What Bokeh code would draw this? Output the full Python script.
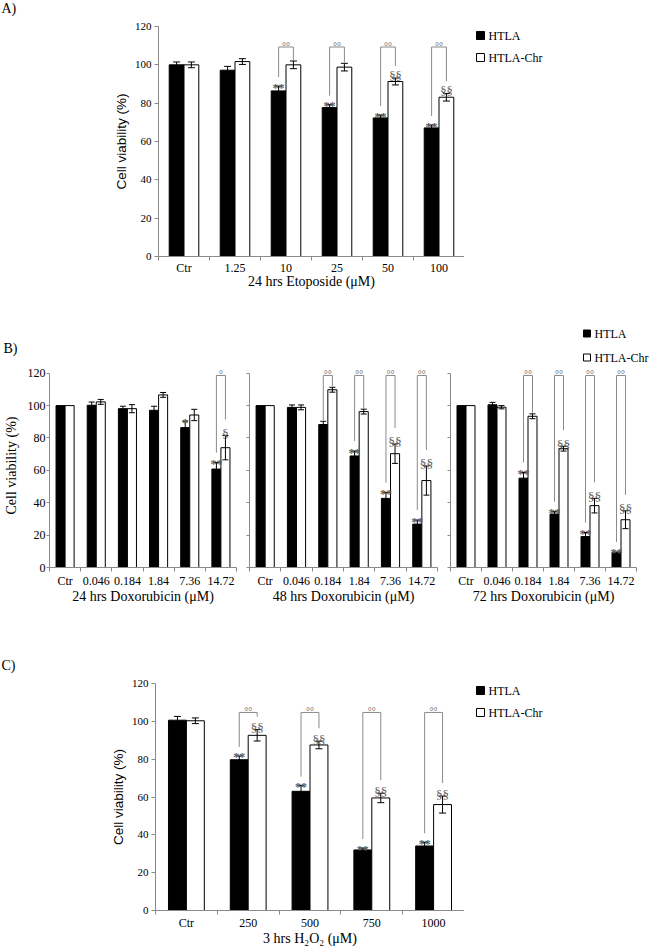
import numpy as np
from bokeh.plotting import figure
from bokeh.models import Range1d, FixedTicker
from bokeh.layouts import column, row
from bokeh.embed import file_html
from bokeh.resources import INLINE
from bokeh.core.properties import value

# ---------------- data ----------------
a_categories = ["Ctr", "1.25", "10", "25", "50", "100"]
a_htla = [100.0, 97.2, 86.4, 77.7, 72.3, 67.1]
a_htla_err = [1.5, 2.0, 2.5, 1.5, 1.5, 1.5]
a_chr = [100.0, 101.7, 100.0, 98.8, 91.3, 83.1]
a_chr_err = [1.5, 1.5, 2.0, 2.0, 1.8, 2.0]
a_htla_sig = ["", "", "**", "**", "**", "**"]
a_chr_sig = ["", "", "", "", "§§", "§§"]
a_pair_sig = ["", "", "°°", "°°", "°°", "°°"]
a_bracket = 109.3
a_xlabel = "24 hrs Etoposide (μM)"

b_categories = ["Ctr", "0.046", "0.184", "1.84", "7.36", "14.72"]
b24_htla = [100.0, 100.2, 98.1, 97.1, 86.4, 60.8]
b24_htla_err = [0.0, 2.0, 1.5, 2.5, 4.0, 4.0]
b24_chr = [100.0, 102.3, 98.1, 106.6, 94.2, 74.0]
b24_chr_err = [0.0, 1.5, 2.5, 1.5, 3.5, 7.5]
b24_htla_sig = ["", "", "", "", "*", "**"]
b24_chr_sig = ["", "", "", "", "", "§"]
b24_pair_sig = ["", "", "", "", "", "°"]
b24_xlabel = "24 hrs Doxorubicin (μM)"

b48_htla = [100.0, 98.9, 88.3, 68.9, 42.7, 26.8]
b48_htla_err = [0.0, 1.5, 2.0, 3.0, 3.5, 2.5]
b48_chr = [100.0, 98.9, 109.8, 96.3, 70.3, 53.7]
b48_chr_err = [0.0, 1.5, 1.5, 1.5, 6.0, 9.0]
b48_htla_sig = ["", "", "", "**", "**", "**"]
b48_chr_sig = ["", "", "", "", "§§", "§§"]
b48_pair_sig = ["", "", "°°", "°°", "°°", "°°"]
b48_xlabel = "48 hrs Doxorubicin (μM)"

b72_htla = [100.0, 100.5, 55.2, 33.0, 19.1, 9.1]
b72_htla_err = [0.0, 1.5, 3.5, 1.5, 2.5, 0.5]
b72_chr = [100.0, 99.0, 93.4, 73.4, 38.2, 29.5]
b72_chr_err = [0.0, 1.0, 1.5, 1.5, 4.5, 5.5]
b72_htla_sig = ["", "", "**", "**", "**", "**"]
b72_chr_sig = ["", "", "", "§§", "§§", "§§"]
b72_pair_sig = ["", "", "°°", "°°", "°°", "°°"]
b72_xlabel = "72 hrs Doxorubicin (μM)"
b_bracket = 118.6

c_categories = ["Ctr", "250", "500", "750", "1000"]
c_htla = [100.6, 79.7, 63.0, 32.0, 34.1]
c_htla_err = [2.0, 2.0, 3.0, 1.0, 2.0]
c_chr = [100.3, 92.6, 87.5, 59.5, 56.0]
c_chr_err = [1.5, 3.0, 2.0, 2.5, 4.5]
c_htla_sig = ["", "**", "**", "**", "**"]
c_chr_sig = ["", "§§", "§§", "§§", "§§"]
c_pair_sig = ["", "°°", "°°", "°°", "°°"]
c_bracket = 104.7
c_xlabel = "3 hrs H₂O₂ (μM)"

y_ticks = [0, 20, 40, 60, 80, 100, 120]
series_names = ["HTLA", "HTLA-Chr"]
series_fill = ["black", "white"]
ylabel_text = "Cell viability (%)"
panel_letters = ["A)", "B)", "C)"]

SERIF = "Liberation Serif"
SANS = "Liberation Sans"
AXIS_GRAY = "#8a8a8a"
MARK_GRAY = "#5a5a5a"


def blank(width, height, tb=0, bb=0, y_top=None, y_bottom=None):
    # figure without axes whose data units are pixels (y downward)
    if y_top is None:
        y_top, y_bottom = 0, height
    p = figure(width=width, height=height, x_range=Range1d(0, width),
               y_range=Range1d(y_bottom, y_top), output_backend="svg",
               toolbar_location=None, x_axis_location=None, y_axis_location=None,
               min_border=0, min_border_left=0, min_border_right=0,
               min_border_top=tb, min_border_bottom=bb)
    p.outline_line_color = None
    p.xgrid.visible = False
    p.ygrid.visible = False
    return p


def add_letter(p, text, x, y):
    p.text(x=[x], y=[y], text=[text], text_align="left", text_baseline="top",
           text_font=value(SERIF), text_font_size="14px", text_color="black")


def draw_legend(p, x0, y0, dy, g):
    ys = [y0, y0 + dy]
    p.rect(x=[x0 + g / 2] * 2, y=ys, width=g, height=g, fill_color=series_fill,
           line_color="black", line_width=1)
    p.text(x=[x0 + g + 4] * 2, y=ys, text=series_names, text_align="left",
           text_baseline="middle", text_font=value(SERIF), text_font_size="12px",
           text_color="black")


def panel(width, height, lb, rb, tb, bb, y_end, cats, htla, htla_err, chr_, chr_err,
          htla_sig, chr_sig, pair_sig, bracket_y, xlabel, st, ylabel=None,
          ylabel_font=SERIF, show_ylabels=True):
    n = len(cats)
    p = figure(width=width, height=height, x_range=Range1d(-0.5, n - 0.5),
               y_range=Range1d(0, y_end), output_backend="svg", toolbar_location=None,
               min_border_left=lb, min_border_right=rb, min_border_top=tb,
               min_border_bottom=bb)
    p.outline_line_color = None
    p.xgrid.visible = False
    p.ygrid.visible = False
    frame_h = height - tb - bb
    ppu = frame_h / y_end
    idx = np.arange(n)
    bw = 0.29
    xb = idx - bw / 2
    xw = idx + bw / 2
    p.vbar(x=xb, top=htla, width=bw, bottom=0, fill_color=series_fill[0],
           line_color="black", line_width=1)
    p.vbar(x=xw, top=chr_, width=bw, bottom=0, fill_color=series_fill[1],
           line_color="black", line_width=1)
    for xs, v, e in ((xb, htla, htla_err), (xw, chr_, chr_err)):
        v = np.array(v, dtype=float)
        e = np.array(e, dtype=float)
        m = e > 0
        p.segment(x0=xs[m], y0=(v - e)[m], x1=xs[m], y1=(v + e)[m],
                  line_color="black", line_width=1)
        p.scatter(x=np.concatenate([xs[m], xs[m]]),
                  y=np.concatenate([(v - e)[m], (v + e)[m]]),
                  marker="dash", size=st["cap"], line_color="black", line_width=1)

    vb = np.array(htla, dtype=float) + np.array(htla_err, dtype=float)
    vw = np.array(chr_, dtype=float) + np.array(chr_err, dtype=float)

    hs = [i for i in range(n) if htla_sig[i]]
    cs = [i for i in range(n) if chr_sig[i]]
    if hs:
        p.text(x=xb[hs], y=vb[hs] - 1.5 / ppu, text=[htla_sig[i] for i in hs],
               text_align="center", text_baseline="alphabetic", text_font=value(SERIF),
               text_font_size=st["star"], text_font_style="bold", text_color=MARK_GRAY)
    if cs:
        p.text(x=xw[cs], y=vw[cs] + 2.0 / ppu, text=[chr_sig[i] for i in cs],
               text_align="center", text_baseline="alphabetic", text_font=value(SERIF),
               text_font_size=st["sect"], text_color=MARK_GRAY)

    xs_l, ys_l, xt, yt, tt = [], [], [], [], []
    for i in range(n):
        if pair_sig[i]:
            lb_y = vb[i] + (st["star_clear"] if htla_sig[i] else 1.0) / ppu
            rb_y = vw[i] + (st["sect_clear"] if chr_sig[i] else 1.0) / ppu
            xs_l.append([xb[i], xb[i], xw[i], xw[i]])
            ys_l.append([lb_y, bracket_y, bracket_y, rb_y])
            xt.append(float(idx[i]))
            yt.append(bracket_y + 1.0 / ppu)
            tt.append(pair_sig[i])
    if xs_l:
        p.multi_line(xs=xs_l, ys=ys_l, line_color=AXIS_GRAY, line_width=1)
        p.text(x=xt, y=yt, text=tt, text_align="center", text_baseline="alphabetic",
               text_font=value(SERIF), text_font_size=st["deg"], text_color=MARK_GRAY)

    xa = p.xaxis[0]
    xa.ticker = FixedTicker(ticks=[int(i) for i in idx],
                            minor_ticks=[float(i) - 0.5 for i in range(n + 1)])
    xa.major_label_overrides = {int(i): c for i, c in enumerate(cats)}
    xa.major_tick_line_color = None
    xa.major_tick_out = 0
    xa.major_tick_in = 0
    xa.minor_tick_line_color = AXIS_GRAY
    xa.minor_tick_out = 4
    xa.minor_tick_in = 0
    xa.axis_line_color = AXIS_GRAY
    xa.major_label_text_font = SERIF
    xa.major_label_text_font_size = st["xtick"]
    xa.major_label_text_color = "black"
    xa.major_label_standoff = st["xstand"]
    xa.axis_label = xlabel
    xa.axis_label_text_font = SERIF
    xa.axis_label_text_font_size = st["xtitle"]
    xa.axis_label_text_font_style = "normal"
    xa.axis_label_text_color = "black"
    xa.axis_label_standoff = st["xtstand"]

    ya = p.yaxis[0]
    ya.bounds = (0, 120)
    ya.axis_line_color = AXIS_GRAY
    if show_ylabels:
        ya.ticker = FixedTicker(ticks=y_ticks)
        ya.minor_tick_line_color = None
        ya.major_tick_out = st["ytickout"]
        ya.major_tick_in = 0
        ya.major_tick_line_color = AXIS_GRAY
        ya.major_label_text_font = SERIF
        ya.major_label_text_color = "black"
        ya.major_label_text_font_size = st["ytick"]
        ya.major_label_standoff = st["ystand"]
    else:
        ya.ticker = FixedTicker(ticks=[], minor_ticks=y_ticks)
        ya.major_tick_line_color = None
        ya.minor_tick_line_color = AXIS_GRAY
        ya.minor_tick_out = st["ytickout"]
        ya.minor_tick_in = 0
    if ylabel:
        ya.axis_label = ylabel
        ya.axis_label_text_font = ylabel_font
        ya.axis_label_text_font_size = st["ytitle"]
        ya.axis_label_text_font_style = "normal"
        ya.axis_label_text_color = "black"
        ya.axis_label_standoff = st["ytstand"]
    return p


st_a = dict(cap=7, star="12px", sect="12.5px", deg="10px", star_clear=9.0, sect_clear=12.0,
            xtick="12px", xstand=0, xtitle="14px", xtstand=-4, ytick="11px", ystand=3,
            ytickout=4, ytitle="13.5px", ytstand=3)
st_b = dict(cap=6, star="12px", sect="13.5px", deg="10px", star_clear=10.0, sect_clear=16.0,
            xtick="12px", xstand=2, xtitle="14px", xtstand=-2, ytick="12px", ystand=1,
            ytickout=3, ytitle="14px", ytstand=6)
st_c = dict(cap=7, star="12px", sect="13px", deg="10px", star_clear=9.0, sect_clear=13.0,
            xtick="12px", xstand=1, xtitle="14px", xtstand=-2, ytick="11px", ystand=3,
            ytickout=4, ytitle="13.5px", ytstand=3)

# ---------------- Panel A (page y 0..300) ----------------
stripA = blank(650, 18)
add_letter(stripA, panel_letters[0], 1, 0)
pA = panel(464, 282, 158, 0, 8, 44, 120, a_categories, a_htla, a_htla_err,
           a_chr, a_chr_err, a_htla_sig, a_chr_sig, a_pair_sig, a_bracket,
           a_xlabel, st_a, ylabel=ylabel_text, ylabel_font=SANS)
# legend area: frame matches pA frame, data units = page pixels (frame spans page y 26..256)
legA = blank(186, 282, tb=8, bb=44, y_top=26, y_bottom=256)
draw_legend(legA, 12, 35, 22, 8)
colA = column(stripA, row(pA, legA))

# ---------------- Panel B (page y 300..612) ----------------
stripB = blank(650, 63)
add_letter(stripB, panel_letters[1], 3, 40)
draw_legend(stripB, 583, 33, 24, 7)
pB1 = panel(243, 249, 49, 7, 0, 45, 126, b_categories, b24_htla, b24_htla_err,
            b24_chr, b24_chr_err, b24_htla_sig, b24_chr_sig, b24_pair_sig,
            b_bracket, b24_xlabel, st_b, ylabel=ylabel_text, ylabel_font=SERIF)
pB2 = panel(200, 249, 6, 6, 0, 45, 126, b_categories, b48_htla, b48_htla_err,
            b48_chr, b48_chr_err, b48_htla_sig, b48_chr_sig, b48_pair_sig,
            b_bracket, b48_xlabel, st_b, show_ylabels=False)
pB3 = panel(207, 249, 7, 14, 0, 45, 126, b_categories, b72_htla, b72_htla_err,
            b72_chr, b72_chr_err, b72_htla_sig, b72_chr_sig, b72_pair_sig,
            b_bracket, b72_xlabel, st_b, show_ylabels=False)
colB = column(stripB, row(pB1, pB2, pB3))

# ---------------- Panel C (page y 612..949) ----------------
stripC = blank(650, 64)
add_letter(stripC, panel_letters[2], 1, 45)
pC = panel(464, 273, 155, 0, 7, 39, 120, c_categories, c_htla, c_htla_err,
           c_chr, c_chr_err, c_htla_sig, c_chr_sig, c_pair_sig, c_bracket,
           c_xlabel, st_c, ylabel=ylabel_text, ylabel_font=SANS)
# legend area: frame matches pC frame (page y 683..910)
legC = blank(186, 273, tb=7, bb=39, y_top=683, y_bottom=910)
draw_legend(legC, 12, 690, 22, 8)
colC = column(stripC, row(pC, legC))

layout = column(colA, colB, colC)

open("out.html", "w").write(file_html(layout, INLINE))
